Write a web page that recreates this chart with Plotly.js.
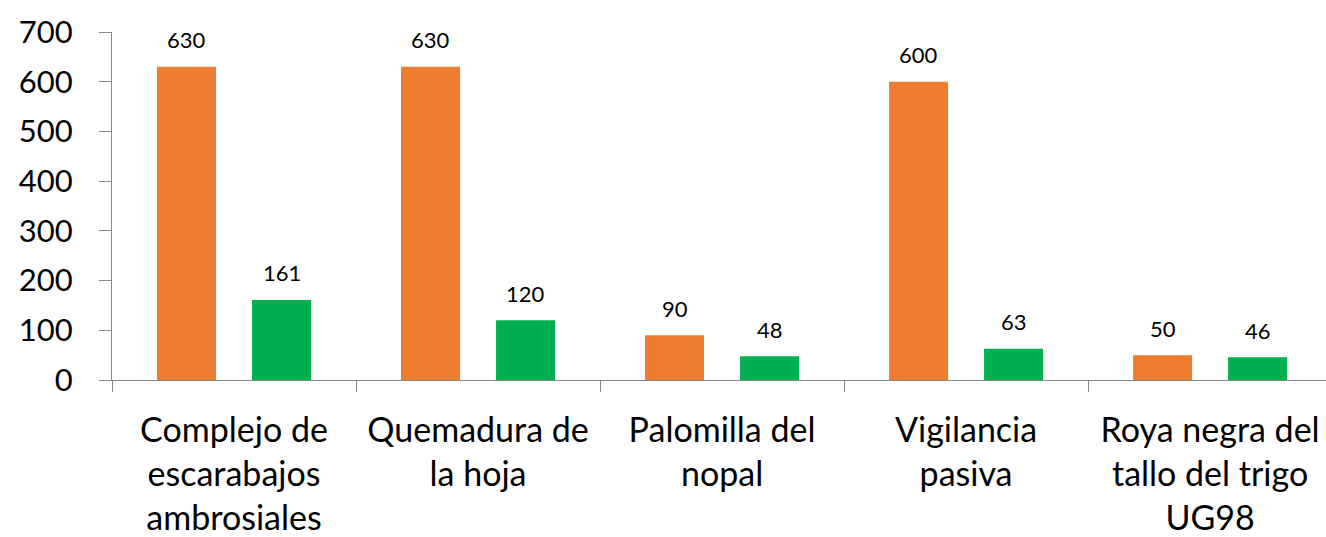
<!DOCTYPE html>
<html>
<head>
<meta charset="utf-8">
<script src="https://cdn.plot.ly/plotly-3.0.1.min.js"></script>
<style>html,body{margin:0;padding:0;background:#fff;}#chart{width:1326px;height:537px;}</style>
</head>
<body>
<div id="chart"></div>
<script>
const categories = [
  "Complejo de<br>escarabajos<br>ambrosiales",
  "Quemadura de<br>la hoja",
  "Palomilla del<br>nopal",
  "Vigilancia<br>pasiva",
  "Roya negra del<br>tallo del trigo<br>UG98"
];
const seriesA = [630, 630, 90, 600, 50];
const seriesB = [161, 120, 48, 63, 46];
const yTicks = [0, 100, 200, 300, 400, 500, 600, 700];

const colorA = "#ED7D31";
const colorB = "#00B050";
const bargap = 0.221;
const groupOffset = (1 - bargap) / 4;

const idx = categories.map((c, i) => i);

const traces = [
  {type: "bar", x: idx, y: seriesA, marker: {color: colorA}, hoverinfo: "none"},
  {type: "bar", x: idx, y: seriesB, marker: {color: colorB}, hoverinfo: "none"}
];

const labelFont = {family: "Lato, sans-serif", size: 22, color: "#000"};
const annotations = [];
seriesA.forEach((v, i) => annotations.push({x: i - groupOffset, y: v, xref: "x", yref: "y", text: String(v), showarrow: false, yanchor: "middle", yshift: 27, font: labelFont}));
seriesB.forEach((v, i) => annotations.push({x: i + groupOffset, y: v, xref: "x", yref: "y", text: String(v), showarrow: false, yanchor: "middle", yshift: 27, font: labelFont}));

const layout = {
  width: 1326, height: 537,
  margin: {l: 112, r: 0, t: 32, b: 157},
  paper_bgcolor: "#fff", plot_bgcolor: "#fff",
  showlegend: false,
  barmode: "group",
  bargap: bargap,
  bargroupgap: 0.379,
  xaxis: {
    type: "linear",
    range: [-0.5, 4.475],
    tickmode: "array",
    tickvals: idx,
    ticktext: categories,
    showgrid: false, zeroline: false,
    showline: true, linecolor: "#898989", linewidth: 1,
    ticks: "",
    tickfont: {family: "Lato, sans-serif", size: 34, color: "#000"},
    ticklabelstandoff: 20
  },
  xaxis2: {
    overlaying: "x", anchor: "y",
    range: [-0.5, 4.475],
    tickmode: "array", tickvals: [-0.5, 0.5, 1.5, 2.5, 3.5],
    ticks: "outside", ticklen: 11, tickcolor: "#898989", tickwidth: 1,
    showticklabels: false, showgrid: false, zeroline: false, showline: false
  },
  yaxis: {
    range: [0, 700],
    tickmode: "array", tickvals: yTicks,
    showgrid: false, zeroline: false,
    showline: true, linecolor: "#898989", linewidth: 1,
    ticks: "outside", ticklen: 12, tickcolor: "#898989", tickwidth: 1,
    tickfont: {family: "Lato, sans-serif", size: 31, color: "#000"},
    ticklabelstandoff: 20
  },
  annotations: annotations
};

// invisible trace so the boundary ticks on xaxis2 are drawn
traces.push({type: "scatter", x: [-0.5], y: [0], xaxis: "x2", yaxis: "y", mode: "markers", marker: {opacity: 0}, hoverinfo: "none", showlegend: false});

Plotly.newPlot("chart", traces, layout, {displayModeBar: false, staticPlot: true});
</script>
</body>
</html>
